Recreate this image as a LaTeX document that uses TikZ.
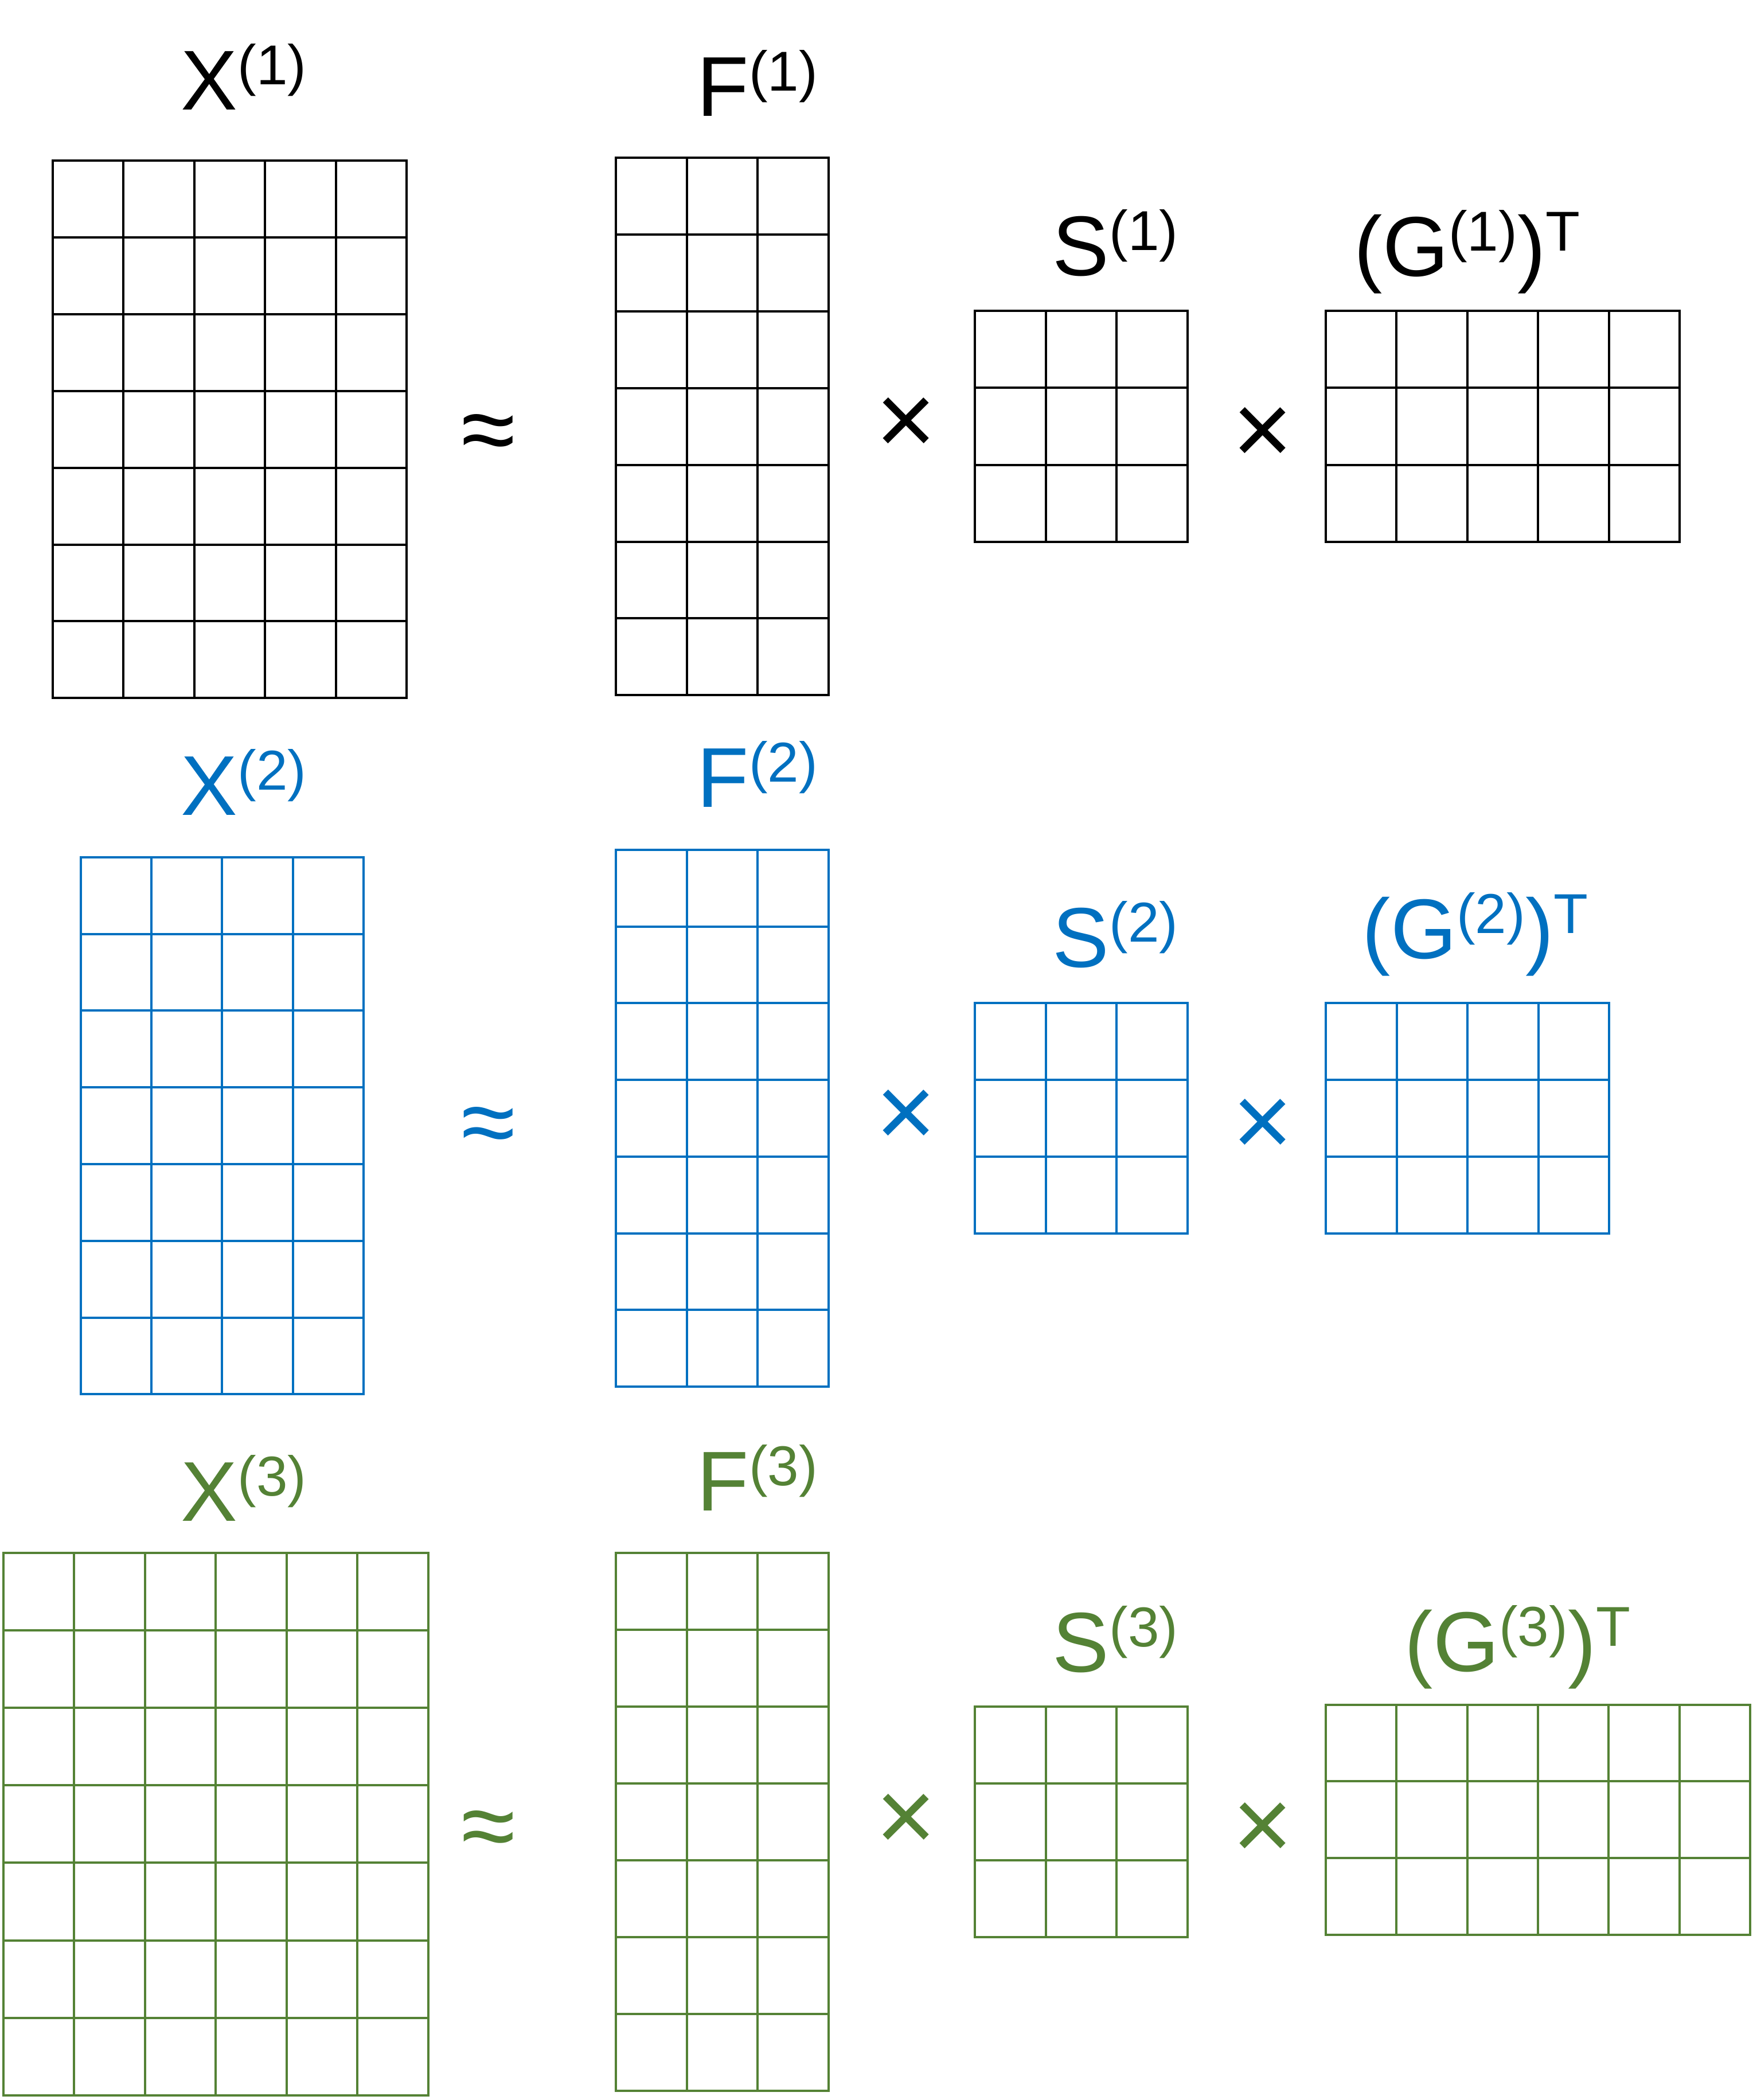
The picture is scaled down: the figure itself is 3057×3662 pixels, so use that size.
\documentclass[tikz,border=0pt]{standalone}
\usepackage{fontspec}
\setmainfont{Liberation Sans}
\definecolor{mblue}{HTML}{0070C0}
\definecolor{mgreen}{HTML}{548235}
% #1 x, #2 y (top left), #3 cols, #4 rows, #5 cell width, #6 cell height, #7 style
\newcommand{\matgrid}[7]{%
  \foreach \i in {0,...,#3} {\draw[#7] ({#1+\i*#5},#2) -- ({#1+\i*#5},{#2+#4*#6});}
  \foreach \j in {0,...,#4} {\draw[#7] (#1,{#2+\j*#6}) -- ({#1+#3*#5},{#2+\j*#6});}
}
\newcommand{\supx}[1]{\raisebox{11pt}{\fontsize{24.5}{26}\selectfont #1}}
\tikzset{
  lbl/.style={anchor=base west, inner sep=0pt, font=\fontsize{37}{40}\selectfont},
  mul/.style={inner sep=0pt, font=\fontsize{45}{48}\selectfont},
  apx/.style={inner sep=0pt, font=\fontsize{43}{46}\selectfont},
  gridline/.style={line width=1pt, line cap=rect}
}
\begin{document}
\begin{tikzpicture}[x=0.25pt,y=-0.25pt]
\useasboundingbox (0,0) rectangle (3057,3662);
% ---------- row 1 (black) ----------
\matgrid{92}{280}{5}{7}{123.4}{133.9}{gridline,black}
\matgrid{1074}{275}{3}{7}{123.5}{133.9}{gridline,black}
\matgrid{1700}{542}{3}{3}{123.7}{134.3}{gridline,black}
\matgrid{2312}{542}{5}{3}{123.4}{134.3}{gridline,black}
\node[lbl] (x1) at (315,191) {X\supx{(1)}};
\node[lbl] (f1) at (1215,202) {F\supx{(1)}};
\node[lbl] (s1) at (1835,480) {S\supx{(1)}};
\node[lbl] (g1) at (2361,481) {(G\supx{(1)})\supx{T}};
\node[apx] (ap1) at (852,765) {≈};
\node[mul] (m1a) at (1580,743) {×};
\node[mul] (m1b) at (2202,760) {×};
% ---------- row 2 (blue) ----------
\matgrid{140.6}{1494.7}{4}{7}{123.35}{133.8}{gridline,mblue}
\matgrid{1074}{1482}{3}{7}{123.5}{133.7}{gridline,mblue}
\matgrid{1700}{1749}{3}{3}{123.7}{134}{gridline,mblue}
\matgrid{2312}{1749}{4}{3}{123.5}{134}{gridline,mblue}
\node[lbl,text=mblue] (x2) at (315,1421) {X\supx{(2)}};
\node[lbl,text=mblue] (f2) at (1215,1407) {F\supx{(2)}};
\node[lbl,text=mblue] (s2) at (1835,1686) {S\supx{(2)}};
\node[lbl,text=mblue] (g2) at (2375,1671) {(G\supx{(2)})\supx{T}};
\node[apx,text=mblue] (ap2) at (852,1973) {≈};
\node[mul,text=mblue] (m2a) at (1580,1950) {×};
\node[mul,text=mblue] (m2b) at (2202,1966) {×};
% ---------- row 3 (green) ----------
\matgrid{5.7}{2708}{6}{7}{123.55}{135.1}{gridline,mgreen}
\matgrid{1074}{2708}{3}{7}{123.5}{134}{gridline,mgreen}
\matgrid{1700}{2976}{3}{3}{123.7}{134}{gridline,mgreen}
\matgrid{2312}{2972.5}{6}{3}{123.3}{133.8}{gridline,mgreen}
\node[lbl,text=mgreen] (x3) at (315,2652) {X\supx{(3)}};
\node[lbl,text=mgreen] (f3) at (1215,2634) {F\supx{(3)}};
\node[lbl,text=mgreen] (s3) at (1835,2915) {S\supx{(3)}};
\node[lbl,text=mgreen] (g3) at (2449,2914) {(G\supx{(3)})\supx{T}};
\node[apx,text=mgreen] (ap3) at (852,3200) {≈};
\node[mul,text=mgreen] (m3a) at (1580,3178) {×};
\node[mul,text=mgreen] (m3b) at (2202,3193) {×};
\end{tikzpicture}
\end{document}
